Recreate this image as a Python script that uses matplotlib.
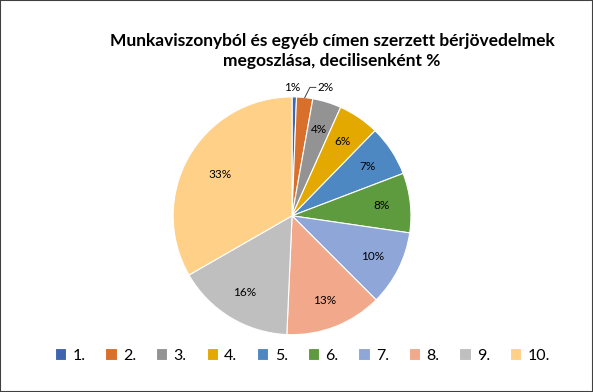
import numpy as np
import matplotlib.pyplot as plt
from matplotlib.patches import Rectangle

# data
deciles = ['1.', '2.', '3.', '4.', '5.', '6.', '7.', '8.', '9.', '10.']
shares = [0.6, 2.2, 3.9, 5.6, 6.9, 8.1, 10.2, 13.2, 16.0, 33.3]
labels = ['1%', '2%', '4%', '6%', '7%', '8%', '10%', '13%', '16%', '33%']
colors = ['#3E65B0', '#D86F2A', '#939393', '#E3A900', '#4E88C2',
          '#5E9A3E', '#8FA6D8', '#F2A88A', '#BFBFBF', '#FFD088']
title = 'Munkaviszonyból és egyéb címen szerzett bérjövedelmek\nmegoszlása, decilisenként %'

plt.rcParams['font.family'] = ['Lato', 'DejaVu Sans']

fig = plt.figure(figsize=(5.93, 3.92), dpi=100)
fig.patches.append(Rectangle((0, 0), 1, 1, transform=fig.transFigure,
                             fill=False, edgecolor='#404040', lw=1.5))
ax = fig.add_axes([0.292, 0.146, 0.401, 0.607])

wedges, _ = ax.pie(shares, colors=colors, startangle=90, counterclock=False,
                   wedgeprops=dict(edgecolor='white', linewidth=0.8))
ax.set_xlim(-1, 1)
ax.set_ylim(-1, 1)
ax.set_aspect('equal')

cum = np.cumsum([0] + shares)
for i, lab in enumerate(labels):
    mid = 90 - 360 * (cum[i] + cum[i + 1]) / 2 / 100
    a = np.deg2rad(mid)
    if i == 0:
        ax.text(0.0, 1.08, lab, ha='center', va='center', fontsize=8.5, clip_on=False)
    elif i == 1:
        x0, y0 = np.cos(a) * 1.0, np.sin(a) * 1.0
        ax.plot([x0, 0.15, 0.2], [y0, 1.08, 1.08], color='#404040', lw=0.7, clip_on=False)
        ax.text(0.21, 1.08, lab, ha='left', va='center', fontsize=8.5, clip_on=False)
    else:
        r = 0.76 if i < 9 else 0.7
        ax.text(r * np.cos(a), r * np.sin(a), lab, ha='center', va='center', fontsize=8.5)

fig.text(0.56, 0.87, title, ha='center', va='center', fontsize=12.5,
         fontweight='bold', linespacing=1.35)

fig.legend(wedges, deciles, loc='center', bbox_to_anchor=(0.51, 0.093),
           ncol=10, frameon=False, fontsize=11.5, handlelength=0.7,
           handleheight=0.7, handletextpad=0.4, columnspacing=1.25)

fig.savefig('out.png', dpi=100)
